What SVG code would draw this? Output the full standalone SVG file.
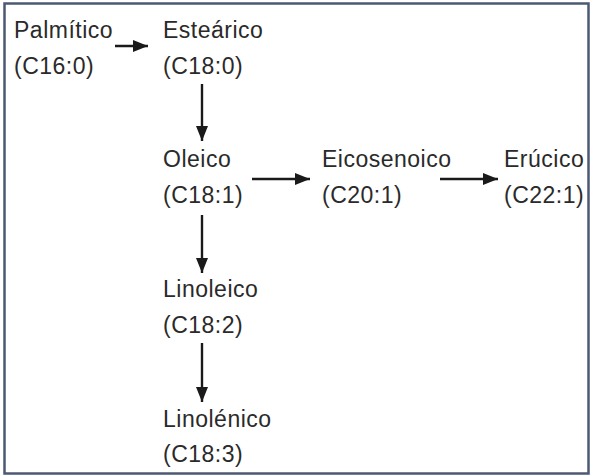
<svg xmlns="http://www.w3.org/2000/svg" width="590" height="476" viewBox="0 0 590 476">
<style>
text{font-family:"Liberation Sans",Arial,sans-serif;font-size:23px;fill:#2a2a2a;letter-spacing:0.5px}
.c{stroke:#1a1a1a;stroke-width:2.4;fill:none;marker-end:url(#ah)}
</style>
<defs>
<marker id="ah" viewBox="0 0 15 12" refX="15" refY="6" markerWidth="15" markerHeight="12" markerUnits="userSpaceOnUse" orient="auto">
<path d="M0,0 L15,6 L0,12 Z" fill="#1a1a1a"/>
</marker>
</defs>
<rect x="0" y="0" width="590" height="476" fill="#ffffff"/>
<rect x="4.5" y="3.5" width="584" height="470" fill="none" stroke="#4b5a72" stroke-width="2.5"/>
<g id="palmitico"><text x="14" y="38">Palmítico</text><text x="14" y="74">(C16:0)</text></g>
<g id="estearico"><text x="163" y="38">Esteárico</text><text x="163" y="74">(C18:0)</text></g>
<g id="oleico"><text x="163" y="167">Oleico</text><text x="163" y="203">(C18:1)</text></g>
<g id="eicosenoico"><text x="322" y="167">Eicosenoico</text><text x="322" y="203">(C20:1)</text></g>
<g id="erucico"><text x="504" y="167">Erúcico</text><text x="504" y="203">(C22:1)</text></g>
<g id="linoleico"><text x="163" y="297">Linoleico</text><text x="163" y="333">(C18:2)</text></g>
<g id="linolenico"><text x="163" y="427">Linolénico</text><text x="163" y="462">(C18:3)</text></g>
<g id="connectors">
<line class="c" x1="115" y1="46" x2="148" y2="46"/>
<line class="c" x1="202" y1="84" x2="202" y2="141"/>
<line class="c" x1="252" y1="179" x2="310" y2="179"/>
<line class="c" x1="440" y1="179" x2="498" y2="179"/>
<line class="c" x1="202" y1="215" x2="202" y2="273"/>
<line class="c" x1="202" y1="343" x2="202" y2="402"/>
</g>
</svg>
